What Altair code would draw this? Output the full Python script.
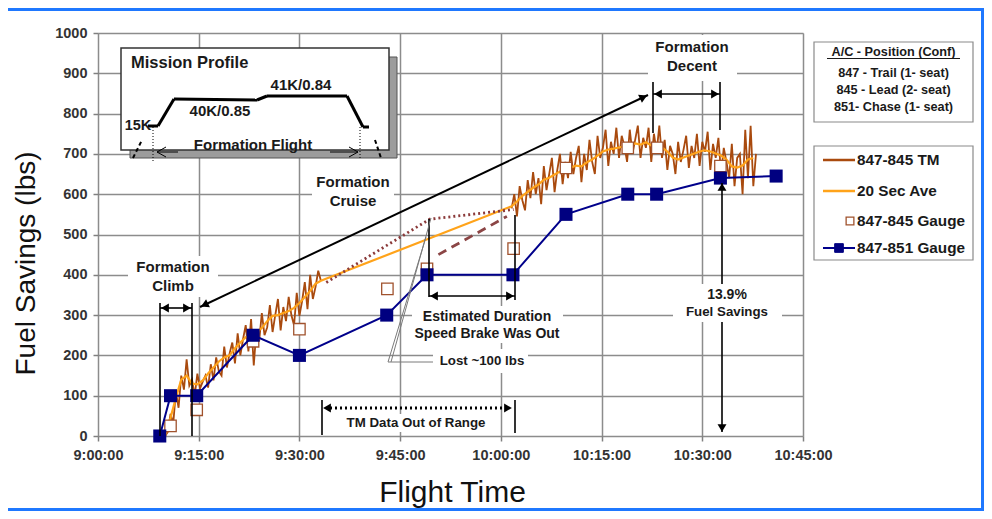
import altair as alt
import pandas as pd

FONT = "Liberation Sans"

# ---------------- data (minutes after 9:00:00, fuel savings in lbs) ----------------
TM_STEP_MIN = 0.4
TM1_START_MIN = 10.0
tm1_values = [0, 10, 55, 30, 110, 70, 150, 115, 190, 125,
              140, 100, 155, 118, 135, 150, 120, 178, 138, 195,
              160, 150, 222, 170, 205, 232, 180, 255, 200, 240,
              275, 210, 290, 175, 265, 235, 305, 250, 270, 325,
              258, 300, 340, 262, 320, 285, 345, 300, 275, 355,
              298, 335, 382, 315, 400, 340, 370, 410, 385]
TM2_START_MIN = 61.6
tm2_values = [565, 600, 545, 620, 585, 560, 635, 590, 655, 600,
              640, 575, 670, 610, 650, 690, 605, 660, 700, 625,
              680, 640, 705, 650, 690, 720, 630, 700, 660, 735,
              680, 650, 745, 690, 715, 760, 670, 730, 700, 765,
              690, 745, 720, 680, 760, 700, 735, 770, 690, 740,
              715, 765, 680, 750, 705, 770, 690, 735, 660, 720,
              700, 650, 730, 680, 710, 745, 665, 720, 690, 750,
              670, 730, 705, 755, 660, 725, 690, 740, 650, 715,
              680, 640, 725, 620, 690, 700, 600, 760, 640, 770,
              620, 700]

avg_minutes = [10.0, 10.8, 11.6, 12.4, 13.2, 14.0, 14.8, 15.6, 16.4, 17.2, 18.0, 18.8,
               19.6, 20.4, 21.2, 22.0, 22.8, 23.6, 24.4, 25.2, 26.0, 26.8, 27.6, 28.4,
               29.2, 30.0, 30.8, 31.6, 32.4, 33.2,
               61.6, 62.4, 63.2, 64.0, 64.8, 65.6, 66.4, 67.2, 68.0, 68.8, 69.6, 70.4,
               71.2, 72.0, 72.8, 73.6, 74.4, 75.2, 76.0, 76.8, 77.6, 78.4, 79.2, 80.0,
               80.8, 81.6, 82.4, 83.2, 84.0, 84.8, 85.6, 86.4, 87.2, 88.0, 88.8, 89.6,
               90.4, 91.2, 92.0, 92.8, 93.6, 94.4, 95.2, 96.0, 96.8, 97.6]
avg_values = [0, 45, 95, 140, 150, 130, 128, 138, 155, 170, 185, 195, 200, 218, 232, 245,
              250, 258, 268, 285, 298, 300, 305, 310, 318, 330, 345, 360, 378, 385,
              570, 582, 596, 606, 616, 624, 636, 641, 649, 656, 659, 666, 671, 669, 679,
              686, 696, 706, 711, 713, 716, 719, 721, 726, 723, 729, 721, 721, 716, 706,
              691, 686, 691, 696, 701, 706, 709, 706, 701, 696, 686, 669, 666, 671, 686, 690]

g845_minutes = [10.8, 14.7, 23.1, 30.0, 43.1, 49.0, 61.9, 69.7, 78.9, 83.3, 92.7]
g845_values = [25, 65, 235, 265, 365, 415, 465, 665, 715, 715, 670]

g851_minutes = [9.2, 10.8, 14.7, 23.1, 30.0, 43.0, 49.0, 61.8, 69.7, 78.9, 83.2, 92.7, 101.0]
g851_values = [0, 100, 100, 250, 200, 300, 400, 400, 550, 600, 600, 640, 645]

est_dot_minutes = [34.0, 49.4, 61.9]
est_dot_values = [381, 538, 562]
est_dash_minutes = [50.7, 60.9]
est_dash_values = [450, 545]

# ---------------- scales / axes ----------------
PLOT_W, PLOT_H = 705, 403
XS = alt.Scale(domain=[0, 105], nice=False, zero=False)
YS = alt.Scale(domain=[0, 1000], nice=False, zero=False)

def mx(X):   # page pixel -> minutes
    return (X - 98) * 105.0 / PLOT_W

def vy(Y):   # page pixel -> lbs
    return (436 - Y) * 1000.0 / PLOT_H

LABEL_EXPR = ("floor((540 + datum.value) / 60) + ':' + "
              "(((540 + datum.value) % 60) < 10 ? '0' : '') + "
              "((540 + datum.value) % 60) + ':00'")

x_axis = alt.Axis(values=list(range(0, 106, 15)), labelExpr=LABEL_EXPR, title="Flight Time",
                  grid=True, gridColor="#8c8c8c", gridWidth=1.5, domain=False,
                  ticks=True, tickColor="#808080", tickSize=5, tickWidth=1.5,
                  labelFont=FONT, labelFontSize=14.5, labelFontWeight="bold",
                  labelColor="#333333", labelPadding=7, labelFlush=False,
                  titleFont=FONT, titleFontSize=30, titleFontWeight="normal",
                  titleColor="#111111", titleX=354, titleY=65, titleAlign="center",
                  titleBaseline="alphabetic")
y_axis = alt.Axis(values=list(range(0, 1001, 100)), format="d", title="Fuel Savings (lbs)",
                  grid=True, gridColor="#8c8c8c", gridWidth=1.5, domain=False,
                  ticks=True, tickColor="#808080", tickSize=5, tickWidth=1.5,
                  labelFont=FONT, labelFontSize=14.5, labelFontWeight="bold",
                  labelColor="#333333", labelPadding=6, labelFlush=False,
                  titleFont=FONT, titleFontSize=28, titleFontWeight="normal",
                  titleColor="#111111", titleAngle=270, titleX=-64, titleY=230,
                  titleAlign="center", titleBaseline="alphabetic")

def XE(field="x"):
    return alt.X(f"{field}:Q", scale=XS, axis=x_axis)

def YE(field="y"):
    return alt.Y(f"{field}:Q", scale=YS, axis=y_axis)

# ---------------- data layers ----------------
tm_rows = ([{"minute": TM1_START_MIN + i * TM_STEP_MIN, "lbs": v, "seg": 1} for i, v in enumerate(tm1_values)] +
           [{"minute": TM2_START_MIN + i * TM_STEP_MIN, "lbs": v, "seg": 2} for i, v in enumerate(tm2_values)])
tm_df = pd.DataFrame(tm_rows)
tm_layer = alt.Chart(tm_df).mark_line(color="#A94A0E", strokeWidth=1.8).encode(
    x=XE("minute"), y=YE("lbs"), detail="seg:N")

avg_df = pd.DataFrame({"minute": avg_minutes, "lbs": avg_values})
avg_layer = alt.Chart(avg_df).mark_line(color="#FFA31A", strokeWidth=2.2).encode(
    x=XE("minute"), y=YE("lbs"))

dot_df = pd.DataFrame({"minute": est_dot_minutes, "lbs": est_dot_values})
dot_layer = alt.Chart(dot_df).mark_line(color="#8B3A3A", strokeWidth=2.8, strokeDash=[2, 3]).encode(
    x=XE("minute"), y=YE("lbs"))
dash_df = pd.DataFrame({"minute": est_dash_minutes, "lbs": est_dash_values})
dash_layer = alt.Chart(dash_df).mark_line(color="#8B4545", strokeWidth=2.8, strokeDash=[9, 6]).encode(
    x=XE("minute"), y=YE("lbs"))

g845_df = pd.DataFrame({"minute": g845_minutes, "lbs": g845_values})
g845_layer = alt.Chart(g845_df).mark_square(filled=True, fill="white", stroke="#A0522D",
                                            strokeWidth=1.3, size=130, opacity=1).encode(
    x=XE("minute"), y=YE("lbs"))

g851_df = pd.DataFrame({"minute": g851_minutes, "lbs": g851_values})
g851_line = alt.Chart(g851_df).mark_line(color="#00008B", strokeWidth=2).encode(
    x=XE("minute"), y=YE("lbs"))
g851_pts = alt.Chart(g851_df).mark_square(filled=True, color="#000080", size=170, opacity=1).encode(
    x=XE("minute"), y=YE("lbs"))

# ---------------- annotation helpers (page pixel geometry) ----------------
def seg_layer(segs, color="black", width=1.5, dash=None):
    df = pd.DataFrame([{"x": mx(a), "y": vy(b), "x2": mx(c), "y2": vy(d)} for a, b, c, d in segs])
    kw = dict(color=color, strokeWidth=width)
    if dash:
        kw["strokeDash"] = dash
    return alt.Chart(df).mark_rule(**kw).encode(x=XE(), y=YE(), x2="x2:Q", y2="y2:Q")

def rect_layer(rects, fill="white", stroke=None, width=1.0):
    df = pd.DataFrame([{"x": mx(a), "y": vy(b), "x2": mx(c), "y2": vy(d)} for a, b, c, d in rects])
    kw = dict(fill=fill, opacity=1)
    if stroke:
        kw["stroke"] = stroke
        kw["strokeWidth"] = width
    else:
        kw["strokeWidth"] = 0
    return alt.Chart(df).mark_rect(**kw).encode(x=XE(), y=YE(), x2="x2:Q", y2="y2:Q")

def heads_layer(items, size=80, color="black"):
    df = pd.DataFrame([{"x": mx(a), "y": vy(b), "a": ang} for a, b, ang in items])
    return alt.Chart(df).mark_point(shape="triangle-up", filled=True, color=color, size=size,
                                    opacity=1).encode(x=XE(), y=YE(),
                                                      angle=alt.Angle("a:Q", scale=None))

def text_layer(items, size, align="center", weight="bold", color="#1a1a1a"):
    df = pd.DataFrame([{"x": mx(a), "y": vy(b), "t": s} for a, b, s in items])
    return alt.Chart(df).mark_text(font=FONT, fontSize=size, fontWeight=weight, align=align,
                                   baseline="middle", color=color).encode(
        x=XE(), y=YE(), text="t:N")

def square_layer(items, size, fill, stroke, width):
    df = pd.DataFrame([{"x": mx(a), "y": vy(b)} for a, b in items])
    return alt.Chart(df).mark_square(filled=True, fill=fill, stroke=stroke, strokeWidth=width,
                                     size=size, opacity=1).encode(x=XE(), y=YE())

# page frame (blue)
frame = seg_layer([(8, 9.5, 984, 9.5), (982.5, 8, 982.5, 511), (8, 509.5, 984, 509.5)],
                  color="#1F78FF", width=3)

# inset "Mission Profile"
inset_shadow = rect_layer([(130, 57, 397, 158)], fill="#9c9c9c", stroke="#555555", width=1)
inset_box = rect_layer([(121, 48, 389, 150)], fill="white", stroke="#333333", width=1.5)
profile = seg_layer([(148, 126, 158, 126), (158, 126, 174, 99), (174, 99, 257, 100),
                     (257, 100, 267, 96), (267, 96, 347, 96), (347, 96, 363, 127),
                     (363, 127, 369, 127)], width=3)
profile_dash = seg_layer([(133, 158, 142, 140), (375, 140, 381, 158)], width=2, dash=[4, 3])
profile_dot = seg_layer([(153, 127, 153, 163), (360, 127, 360, 160)], width=1, dash=[1, 2])
inset_arrows = seg_layer([(157, 152, 178, 152), (157, 152, 166, 147), (157, 152, 166, 157),
                          (330, 152, 358, 152), (358, 152, 349, 147), (358, 152, 349, 157)],
                         width=1)

# legends (right)
legend_boxes = rect_layer([(814, 42, 973, 122), (814, 146, 973, 260)], fill="white",
                          stroke="#8a8a8a", width=1.2)
legend_underline = seg_layer([(827, 58.5, 960, 58.5)], color="#1a1a1a", width=1)
leg_brown = seg_layer([(823, 160, 855, 160)], color="#A94A0E", width=2.5)
leg_orange = seg_layer([(823, 191, 855, 191)], color="#FFA31A", width=2.5)
leg_blue = seg_layer([(823, 248, 855, 248)], color="#00008B", width=2)
leg_open_sq = square_layer([(850, 221)], 60, "white", "#A0522D", 1.3)
leg_blue_sq = square_layer([(839, 248)], 75, "#000080", "#000080", 1)

# black annotation lines
ann_lines = seg_layer([
    (160, 303, 160, 436), (192, 303, 192, 436), (160, 308, 192, 308),
    (653, 82, 653, 133), (720, 82, 720, 130), (653, 94, 720, 94),
    (722, 183, 722, 432),
    (322, 400, 322, 435), (515, 400, 515, 433),
    (429, 219, 429, 297), (515, 215, 515, 300), (429, 296, 515, 296),
], width=1.6)
cruise_line = seg_layer([(200, 307, 648, 95)], width=2)
range_dotted = seg_layer([(330, 408, 507, 408)], width=3, dash=[2, 3])
lost_lines = seg_layer([(388, 362, 426, 237), (391, 362, 431, 218), (388, 362, 433, 362)],
                       color="#7a7a7a", width=1)
heads = heads_layer([
    (165, 308, 270), (187, 308, 90),
    (658, 94, 270), (715, 94, 90),
    (722, 187, 0), (722, 428, 180),
    (327, 408, 270), (508, 408, 90),
    (434, 296, 270), (510, 296, 90),
    (643.5, 97.1, 64.6), (204.5, 304.9, 244.6),
])

# white boxes behind annotation text
text_bg = rect_layer([
    (128, 256, 218, 297),
    (312, 171, 394, 211),
    (648, 35, 737, 81),
    (673, 284, 782, 322),
    (412, 306, 563, 343),
    (433, 349, 528, 373),
    (343, 414, 490, 432),
])

texts15 = text_layer([
    (173, 267, "Formation"), (173, 286, "Climb"),
    (353, 182, "Formation"), (353, 201, "Cruise"),
    (692, 47, "Formation"), (692, 66, "Decent"),
    (253, 145, "Formation Flight"),
    (220, 111, "40K/0.85"), (301, 85, "41K/0.84"),
], 15)
text_15k = text_layer([(138, 126, "15K")], 14.5)
text_mp = text_layer([(131, 63, "Mission Profile")], 16.5, align="left")
texts14 = text_layer([
    (487, 317, "Estimated Duration"), (487, 334, "Speed Brake Was Out"),
], 14)
texts13 = text_layer([
    (482, 361, "Lost ~100 lbs"), (416, 423, "TM Data Out of Range"),
    (727, 312, "Fuel Savings"),
], 13.3)
text_pct = text_layer([(727, 295, "13.9%")], 14)
legend1_text = text_layer([
    (893.5, 52, "A/C - Position (Conf)"), (893.5, 73, "847 - Trail (1- seat)"),
    (893.5, 90, "845 - Lead (2- seat)"), (893.5, 107, "851- Chase (1- seat)"),
], 12.7)
legend2_text = text_layer([
    (857, 160, "847-845 TM"), (857, 191, "20 Sec Ave"),
    (857, 221, "847-845 Gauge"), (857, 248, "847-851 Gauge"),
], 15.3, align="left")

chart = alt.layer(
    tm_layer, frame, inset_shadow, inset_box,
    avg_layer, dot_layer, dash_layer, g845_layer, g851_line, g851_pts,
    profile, profile_dash, profile_dot, inset_arrows,
    legend_boxes, legend_underline, leg_brown, leg_orange, leg_blue, leg_open_sq, leg_blue_sq,
    ann_lines, cruise_line, range_dotted, lost_lines, heads,
    text_bg,
    texts15, text_15k, text_mp, texts14, texts13, text_pct, legend1_text, legend2_text,
).properties(
    width=PLOT_W, height=PLOT_H,
    autosize=alt.AutoSizeParams(type="none"),
    padding={"left": 90, "top": 25, "right": 181, "bottom": 75},
).configure_view(stroke="#7f7f7f", strokeWidth=2).configure(font=FONT, background="white")

chart.save("out.html", embed_options={"renderer": "svg", "actions": False})
